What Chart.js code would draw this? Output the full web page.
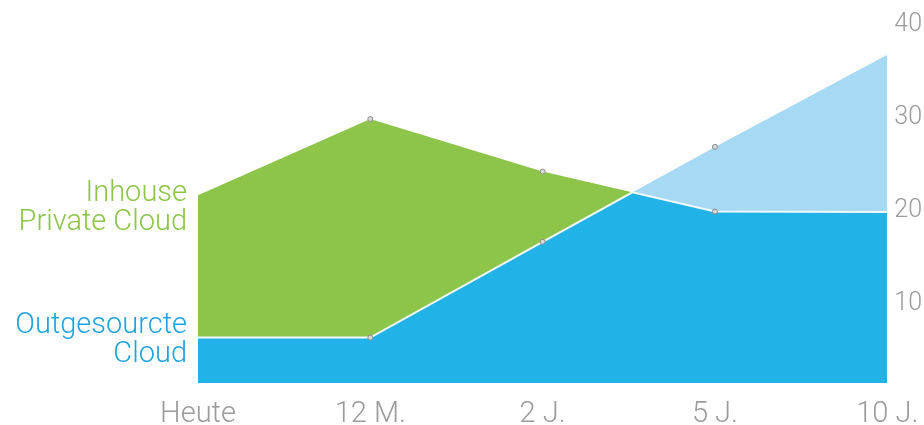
<!DOCTYPE html>
<html>
<head>
<meta charset="utf-8">
<script src="https://cdn.jsdelivr.net/npm/chart.js@4/dist/chart.umd.min.js"></script>
<style>
  html, body { margin: 0; padding: 0; background: #ffffff; }
  #wrap { width: 924px; height: 425px; position: relative; }
</style>
</head>
<body>
<div id="wrap"><canvas id="cloudChart"></canvas></div>
<script>
// --- data ---
const periods = ["Heute", "12 M.", "2 J.", "5 J.", "10 J."];
const inhouse = [21.7, 29.9, 24.25, 19.95, 19.9];    // Inhouse Private Cloud
const outsourced = [6.4, 6.4, 16.7, 26.9, 36.8];     // Outgesourcte Cloud
const yTicks = [10, 20, 30, 40];
const seriesNames = [["Inhouse", "Private Cloud"], ["Outgesourcte", "Cloud"]];

const GREEN = "#8dc54b";
const BLUE = "#21b3e7";
const LIGHT_BLUE = "#a6daf4";
const GREY = "#9b9b9b";
const FONT = "Roboto, 'Liberation Sans', sans-serif";

// points for a linear x axis
const toPts = (arr) => arr.map((v, i) => ({ x: i, y: v }));

// lower envelope of both series, with the crossing points added
function lowerEdge(a, b) {
  const out = [];
  for (let i = 0; i < a.length; i++) {
    out.push({ x: i, y: Math.min(a[i], b[i]) });
    if (i < a.length - 1) {
      const d0 = a[i] - b[i];
      const d1 = a[i + 1] - b[i + 1];
      if (d0 * d1 < 0) {
        const t = d0 / (d0 - d1);
        out.push({ x: i + t, y: b[i] + t * (b[i + 1] - b[i]) });
      }
    }
  }
  return out;
}

// markers only on the inner points
const innerRadius = (ctx) =>
  ctx.dataIndex === 0 || ctx.dataIndex === periods.length - 1 ? 0 : 2.5;

// keep the axis label overflow out of the layout
const noEdgePadding = (scale) => {
  scale.paddingLeft = 0;
  scale.paddingRight = 0;
  scale.paddingTop = 0;
  scale.paddingBottom = 0;
};

const sideLabels = {
  id: "sideLabels",
  afterDraw(chart) {
    const { ctx, chartArea, scales } = chart;
    const anchors = [inhouse[0] - 1.37, outsourced[0] - 0.32];
    const colors = [GREEN, "#1fa3dd"];
    ctx.save();
    ctx.font = "300 29px " + FONT;
    ctx.textAlign = "right";
    ctx.textBaseline = "middle";
    seriesNames.forEach((lines, k) => {
      const yc = scales.y.getPixelForValue(anchors[k]);
      ctx.fillStyle = colors[k];
      lines.forEach((txt, j) => {
        ctx.fillText(txt, chartArea.left - 11, yc + (j - (lines.length - 1) / 2) * 29);
      });
    });
    ctx.restore();
  },
};

new Chart(document.getElementById("cloudChart"), {
  type: "line",
  data: {
    datasets: [
      {
        label: "Inhouse Private Cloud",
        data: toPts(inhouse),
        borderWidth: 0,
        borderColor: "rgba(0,0,0,0)",
        backgroundColor: GREEN,
        fill: { target: 2 },
        pointRadius: innerRadius,
        pointBorderColor: "#8c8c8c",
        pointBackgroundColor: "#d8d8d8",
        pointBorderWidth: 1,
      },
      {
        label: "Outgesourcte Cloud",
        data: toPts(outsourced),
        borderWidth: 0,
        borderColor: "rgba(0,0,0,0)",
        backgroundColor: LIGHT_BLUE,
        fill: { target: 2 },
        pointRadius: innerRadius,
        pointBorderColor: "#8c8c8c",
        pointBackgroundColor: "#d8d8d8",
        pointBorderWidth: 1,
      },
      {
        label: "base",
        data: lowerEdge(inhouse, outsourced),
        borderWidth: 2,
        borderColor: "#f4f8fa",
        backgroundColor: BLUE,
        fill: "origin",
        pointRadius: 0,
      },
    ],
  },
  options: {
    responsive: true,
    maintainAspectRatio: false,
    animation: false,
    layout: { padding: { left: 198, right: -5, top: 25, bottom: -13 } },
    elements: { line: { tension: 0 } },
    plugins: {
      legend: { display: false },
      tooltip: { enabled: false },
      filler: { drawTime: "beforeDatasetsDraw", propagate: false },
    },
    scales: {
      x: {
        type: "linear",
        min: 0,
        max: periods.length - 1,
        grid: { display: false },
        border: { display: false },
        afterBuildTicks: (scale) => {
          scale.ticks = periods.map((_, i) => ({ value: i }));
        },
        afterFit: noEdgePadding,
        ticks: {
          color: GREY,
          padding: 6,
          maxRotation: 0,
          autoSkip: false,
          font: { family: FONT, size: 29, weight: "300" },
          callback: (v) => periods[v],
        },
      },
      y: {
        position: "right",
        min: 1.5,
        max: 40,
        grid: { display: false, drawTicks: false },
        border: { display: false },
        afterBuildTicks: (scale) => {
          scale.ticks = yTicks.map((v) => ({ value: v }));
        },
        afterFit: noEdgePadding,
        ticks: {
          color: GREY,
          padding: 7,
          font: { family: FONT, size: 25, weight: "300" },
        },
      },
    },
  },
  plugins: [sideLabels],
});
</script>
</body>
</html>
